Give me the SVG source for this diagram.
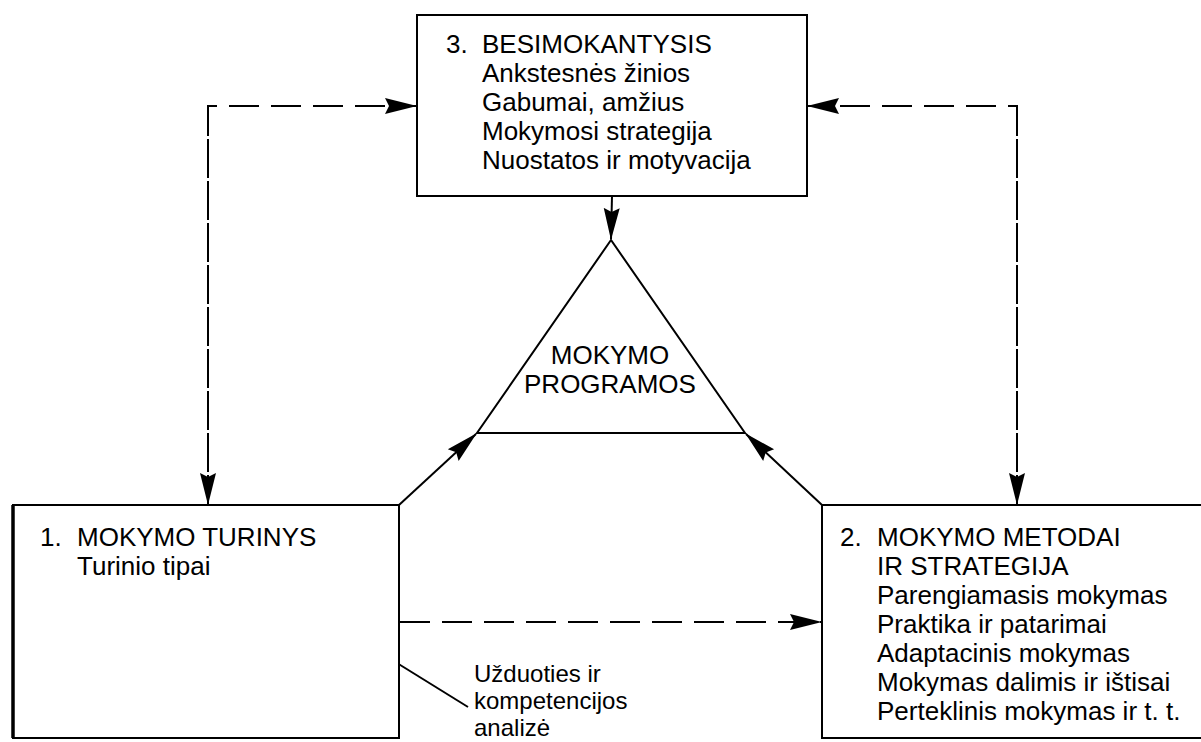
<svg xmlns="http://www.w3.org/2000/svg" width="1201" height="742" viewBox="0 0 1201 742">
<style>
  .box { fill: #fff; stroke: #000; stroke-width: 2; }
  .ln { fill: none; stroke: #000; stroke-width: 2; }
  .dash { fill: none; stroke: #000; stroke-width: 2; stroke-dasharray: 30 12; }
  text { font-family: "Liberation Sans", Arial, Helvetica, sans-serif; font-size: 26px; fill: #000; }
  .c { text-anchor: middle; }
  .note { font-size: 24px; }
</style>
<defs>
  <marker id="arr" markerUnits="userSpaceOnUse" markerWidth="32" markerHeight="18" viewBox="0 0 32 18" refX="31" refY="9" orient="auto">
    <path d="M0,1 L32,9 L0,17 L4,9 z" fill="#000"/>
  </marker>
</defs>
<rect width="1201" height="742" fill="#fff"/>

<g id="connectors">
  <path class="dash" d="M208,505 L208,106 L416,106" marker-end="url(#arr)"/>
  <path class="dash" d="M208,106 L208,504" marker-end="url(#arr)"/>
  <path class="dash" d="M1017,505 L1017,106 L808,106" marker-end="url(#arr)"/>
  <path class="dash" d="M1017,106 L1017,504" marker-end="url(#arr)"/>
  <path class="dash" d="M400,622 L821,622" marker-end="url(#arr)"/>
  <path class="ln" d="M612,196 L611,239" marker-end="url(#arr)"/>
  <path class="ln" d="M399,505 L476,434" marker-end="url(#arr)"/>
  <path class="ln" d="M822,505 L746,434" marker-end="url(#arr)"/>
  <path class="ln" d="M397,663 L468,707"/>
</g>

<g id="node-besimokantysis">
  <rect class="box" x="417" y="15" width="390" height="181"/>
  <text x="446" y="53">3.</text>
  <text x="482" y="53">BESIMOKANTYSIS</text>
  <text x="482" y="82">Ankstesnės žinios</text>
  <text x="482" y="111">Gabumai, amžius</text>
  <text x="482" y="140">Mokymosi strategija</text>
  <text x="482" y="169">Nuostatos ir motyvacija</text>
</g>

<g id="node-programos">
  <path class="ln" d="M611,240 L477,433 L745,433 Z"/>
  <text class="c" x="610" y="364">MOKYMO</text>
  <text class="c" x="610" y="393">PROGRAMOS</text>
</g>

<g id="node-turinys">
  <rect class="box" x="13" y="505" width="386" height="233"/>
  <line x1="13" y1="505" x2="13" y2="738" stroke="#000" stroke-width="3.5"/>
  <text x="40" y="546">1.</text>
  <text x="77" y="546">MOKYMO TURINYS</text>
  <text x="77" y="575">Turinio tipai</text>
</g>

<g id="node-metodai">
  <rect class="box" x="822" y="505" width="400" height="233"/>
  <text x="840" y="546">2.</text>
  <text x="877" y="546">MOKYMO METODAI</text>
  <text x="877" y="575">IR STRATEGIJA</text>
  <text x="877" y="604">Parengiamasis mokymas</text>
  <text x="877" y="633">Praktika ir patarimai</text>
  <text x="877" y="662">Adaptacinis mokymas</text>
  <text x="877" y="691">Mokymas dalimis ir ištisai</text>
  <text x="877" y="720">Perteklinis mokymas ir t. t.</text>
</g>

<g id="label-analize">
  <text class="note" x="474" y="682">Užduoties ir</text>
  <text class="note" x="474" y="709">kompetencijos</text>
  <text class="note" x="474" y="736">analizė</text>
</g>
</svg>
